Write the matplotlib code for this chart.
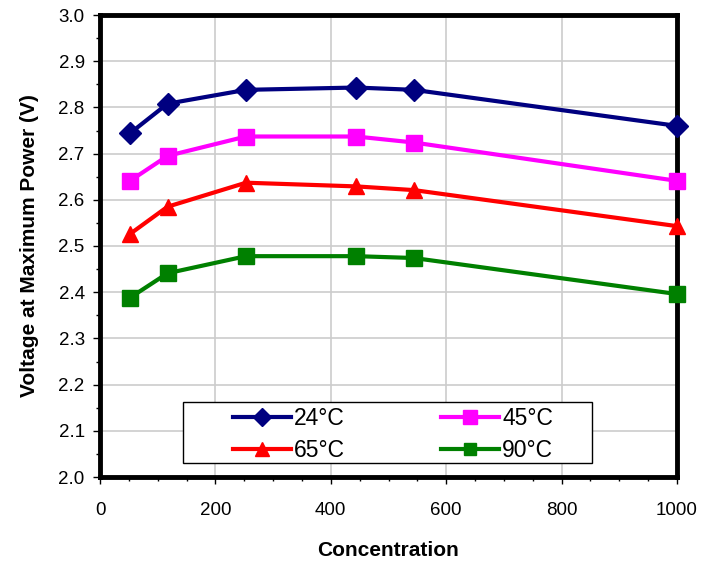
import matplotlib.pyplot as plt
from matplotlib.ticker import MultipleLocator
from matplotlib.patches import Rectangle

plt.rcParams['font.family'] = ['Liberation Sans', 'DejaVu Sans']

# ================= DATA =================
conc = [52, 117, 253, 444, 544, 1000]
v_24 = [2.744, 2.808, 2.838, 2.843, 2.838, 2.760]
v_45 = [2.641, 2.695, 2.737, 2.737, 2.724, 2.641]
v_65 = [2.526, 2.585, 2.637, 2.629, 2.621, 2.543]
v_90 = [2.388, 2.441, 2.478, 2.478, 2.474, 2.396]
labels = ["24°C", "45°C", "65°C", "90°C"]

# ================= PLOT =================
fig = plt.figure(figsize=(7.08, 5.65), dpi=100)
ax = fig.add_axes([100 / 708, 88 / 565, 577 / 708, 462 / 565])

l24, = ax.plot(conc, v_24, color='#000080', marker='D', ms=11, lw=3, label=labels[0], clip_on=False, zorder=3)
l45, = ax.plot(conc, v_45, color='#FF00FF', marker='s', ms=12, lw=3, label=labels[1], clip_on=False, zorder=3)
l65, = ax.plot(conc, v_65, color='#FF0000', marker='^', ms=12, lw=3, label=labels[2], clip_on=False, zorder=3)
l90, = ax.plot(conc, v_90, color='#008000', marker='s', ms=11, lw=3, label=labels[3], clip_on=False, zorder=3)

ax.set_xlim(0, 1000)
ax.set_ylim(2.0, 3.0)
ax.xaxis.set_major_locator(MultipleLocator(200))
ax.xaxis.set_minor_locator(MultipleLocator(50))
ax.yaxis.set_major_locator(MultipleLocator(0.1))
ax.yaxis.set_minor_locator(MultipleLocator(0.05))
ax.yaxis.set_major_formatter(plt.FormatStrFormatter('%.1f'))

ax.grid(True, which='major', color='#cccccc', lw=1.2, zorder=0)
for s in ax.spines.values():
    s.set_linewidth(3.5)
ax.tick_params(which='both', direction='out', labelsize=13.5, width=1)
ax.tick_params(axis='x', which='major', length=5, pad=13)
ax.tick_params(axis='y', which='major', length=5, pad=6)
ax.tick_params(which='minor', length=3)

ax.set_xlabel("Concentration", fontsize=15, fontweight='bold', labelpad=16)
ax.set_ylabel("Voltage at Maximum Power (V)", fontsize=15, fontweight='bold', labelpad=14)

# legend box (row-wise order: 24, 45 / 65, 90)
box_x0, box_y0 = 83 / 577, 14 / 462
box_w, box_h = 409 / 577, 61 / 462
ax.add_patch(Rectangle((box_x0, box_y0), box_w, box_h, transform=ax.transAxes,
                       facecolor='white', edgecolor='black', lw=1, zorder=4))
leg = ax.legend([l24, l65, l45, l90], [labels[0], labels[2], labels[1], labels[3]],
                ncol=2, loc='center',
                bbox_to_anchor=(box_x0 + box_w / 2 + 0.01, box_y0 + box_h / 2 - 0.004),
                fontsize=16.5, frameon=False, handlelength=2.5, columnspacing=4.2,
                markerscale=0.8, borderaxespad=0, labelspacing=0.4, handletextpad=0.15)
leg.set_zorder(5)

fig.savefig("out.png", dpi=100)
